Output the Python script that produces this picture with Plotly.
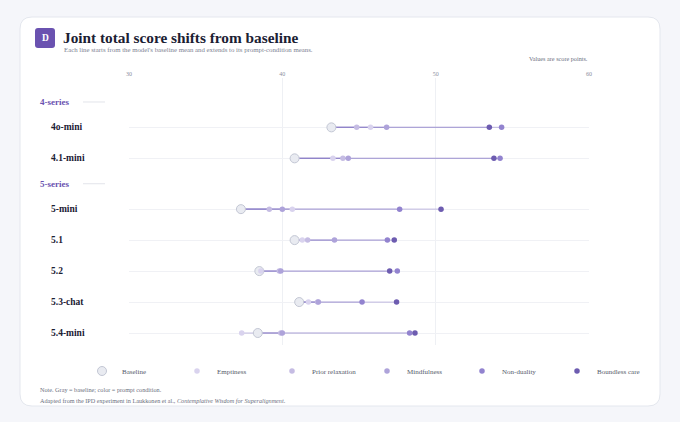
import plotly.graph_objects as go

# ---- data -------------------------------------------------------------
groups = ['4-series', '5-series']
models = ['4o-mini', '4.1-mini', '5-mini', '5.1', '5.2', '5.3-chat', '5.4-mini']
model_group = ['4-series', '4-series', '5-series', '5-series', '5-series', '5-series', '5-series']

baseline = [43.2, 40.8, 37.3, 40.8, 38.5, 41.1, 38.4]
conditions = ['Emptiness', 'Prior relaxation', 'Mindfulness', 'Non-duality', 'Boundless care']
emptiness = [45.75, 43.3, 40.65, 41.3, 38.6, 41.7, 37.35]
prior_relaxation = [44.85, 43.95, 39.15, 41.65, 39.8, 42.3, 39.9]
mindfulness = [46.8, 44.3, 40.0, 43.4, 39.9, 42.35, 40.0]
non_duality = [54.3, 54.2, 47.65, 46.85, 47.5, 45.2, 48.3]
boundless_care = [53.5, 53.8, 50.35, 47.3, 47.0, 47.45, 48.65]
condition_values = [emptiness, prior_relaxation, mindfulness, non_duality, boundless_care]

x_ticks = [30, 40, 50, 60]

# ---- style ------------------------------------------------------------
W, H = 680, 422
L, R, T, B = 129, 91, 78, 77
PW, PH = W - L - R, H - T - B
SERIF = 'Liberation Serif'
INK = '#1b2033'
MUTED = '#7d8292'
PURPLE = '#6a52b0'
cond_colors = ['#d9d3ee', '#c5bce3', '#aea3da', '#9283cf', '#6d5cb0']
base_fill, base_line = '#e9ebf1', '#c3c7d4'


def px(x):
    return (x - L) / PW


def py(y):
    return (H - B - y) / PH


# row positions: headers take a slightly shorter step than model rows
row_pos, header_pos = [], {}
pos, prev = 0.0, None
for g, m in zip(model_group, models):
    if g != prev:
        if prev is not None:
            pos += 0.82
        header_pos[g] = pos
        pos += 0.82
        prev = g
    else:
        pos += 1.0
    row_pos.append(pos)

fig = go.Figure()

# segments from baseline to each condition mean (overlapping, so they deepen near baseline)
for name, vals in zip(conditions, condition_values):
    xs, ys = [], []
    for b, v, y in zip(baseline, vals, row_pos):
        xs += [b, v, None]
        ys += [y, y, None]
    fig.add_trace(go.Scatter(x=xs, y=ys, mode='lines', line=dict(color='#8a7cc8', width=1.2),
                             opacity=0.4, showlegend=False, hoverinfo='skip'))

fig.add_trace(go.Scatter(
    name='Baseline', x=baseline, y=row_pos, mode='markers',
    marker=dict(size=9, color=base_fill, line=dict(color=base_line, width=1)),
))
for name, vals, col in zip(conditions, condition_values, cond_colors):
    fig.add_trace(go.Scatter(
        name=name, x=vals, y=row_pos, mode='markers',
        marker=dict(size=5.5, color=col),
    ))


# ---- card & header decorations ---------------------------------------
def rounded(x0, y0, x1, y1, r):
    ax0, ax1 = px(x0), px(x1)
    ay0, ay1 = py(y0), py(y1)
    rx, ry = r / PW, r / PH
    return (f'M{ax0 + rx},{ay0} L{ax1 - rx},{ay0} Q{ax1},{ay0} {ax1},{ay0 - ry} '
            f'L{ax1},{ay1 + ry} Q{ax1},{ay1} {ax1 - rx},{ay1} '
            f'L{ax0 + rx},{ay1} Q{ax0},{ay1} {ax0},{ay1 + ry} '
            f'L{ax0},{ay0 - ry} Q{ax0},{ay0} {ax0 + rx},{ay0} Z')


shapes = [
    dict(type='path', xref='paper', yref='paper', layer='below', path=rounded(20, 17, 660, 406, 12),
         fillcolor='white', line=dict(color='#e4e7ee', width=1)),
    dict(type='path', xref='paper', yref='paper', path=rounded(35, 28, 55, 48, 3),
         fillcolor=PURPLE, line=dict(width=0)),
]
for g, y in header_pos.items():
    shapes.append(dict(type='line', xref='paper', yref='y', x0=px(83), x1=px(105), y0=y, y1=y,
                       line=dict(color='#e2e4ea', width=1)))

note_font = dict(family=SERIF, size=6.2, color='#6c7080')
annotations = [
    dict(text='<b>D</b>', x=px(45), y=py(38.5), xanchor='center',
         font=dict(family=SERIF, size=9.5, color='white')),
    dict(text='<b>Joint total score shifts from baseline</b>', x=px(61), y=py(37),
         font=dict(family=SERIF, size=15.3, color=INK)),
    dict(text="Each line starts from the model's baseline mean and extends to its prompt-condition means.",
         x=px(62), y=py(50), font=dict(family=SERIF, size=6.8, color=MUTED)),
    dict(text='Values are score points.', x=px(590), y=py(58), xanchor='right', font=note_font),
    dict(text='Note. Gray = baseline; color = prompt condition.', x=px(38), y=py(389), font=note_font),
    dict(text='Adapted from the IPD experiment in Laukkonen et al., <i>Contemplative Wisdom for Superalignment</i>.',
         x=px(38), y=py(400), font=note_font),
]
for g, y in header_pos.items():
    annotations.append(dict(text=f'<b>{g}</b>', x=px(38), y=y, yref='y',
                            font=dict(family=SERIF, size=9, color=PURPLE)))
for m, y in zip(models, row_pos):
    annotations.append(dict(text=f'<b>{m}</b>', x=px(49), y=y, yref='y',
                            font=dict(family=SERIF, size=9.5, color=INK)))
for a in annotations:
    a.setdefault('xref', 'paper')
    a.setdefault('yref', 'paper')
    a.setdefault('xanchor', 'left')
    a['yanchor'] = 'middle'
    a['showarrow'] = False

y_top = header_pos['4-series'] - (102 - T) / 31
y_bot = row_pos[-1] + (H - B - 333) / 31

fig.update_layout(
    width=W, height=H,
    margin=dict(l=L, r=R, t=T, b=B),
    paper_bgcolor='#f5f6fa',
    plot_bgcolor='rgba(0,0,0,0)',
    shapes=shapes,
    annotations=annotations,
    font=dict(family=SERIF, color=INK),
    xaxis=dict(range=[30, 60], side='top', tickvals=x_ticks, showgrid=True, gridcolor='#eef0f4',
               zeroline=False, showline=False, ticks='', tickfont=dict(size=6, color='#8a8e9c')),
    yaxis=dict(range=[y_bot, y_top], tickvals=row_pos, showticklabels=False, showgrid=True,
               gridcolor='#f0f1f5', zeroline=False, showline=False, ticks=''),
    legend=dict(orientation='h', x=px(82), y=py(371), xanchor='left', yanchor='middle',
                entrywidth=50, entrywidthmode='pixels', itemwidth=30,
                font=dict(family=SERIF, size=7, color='#555a6a'), bgcolor='rgba(0,0,0,0)'),
    showlegend=True,
)

fig.write_html('out.html', config={'displayModeBar': False},
               post_script="document.body.style.margin='0';")
